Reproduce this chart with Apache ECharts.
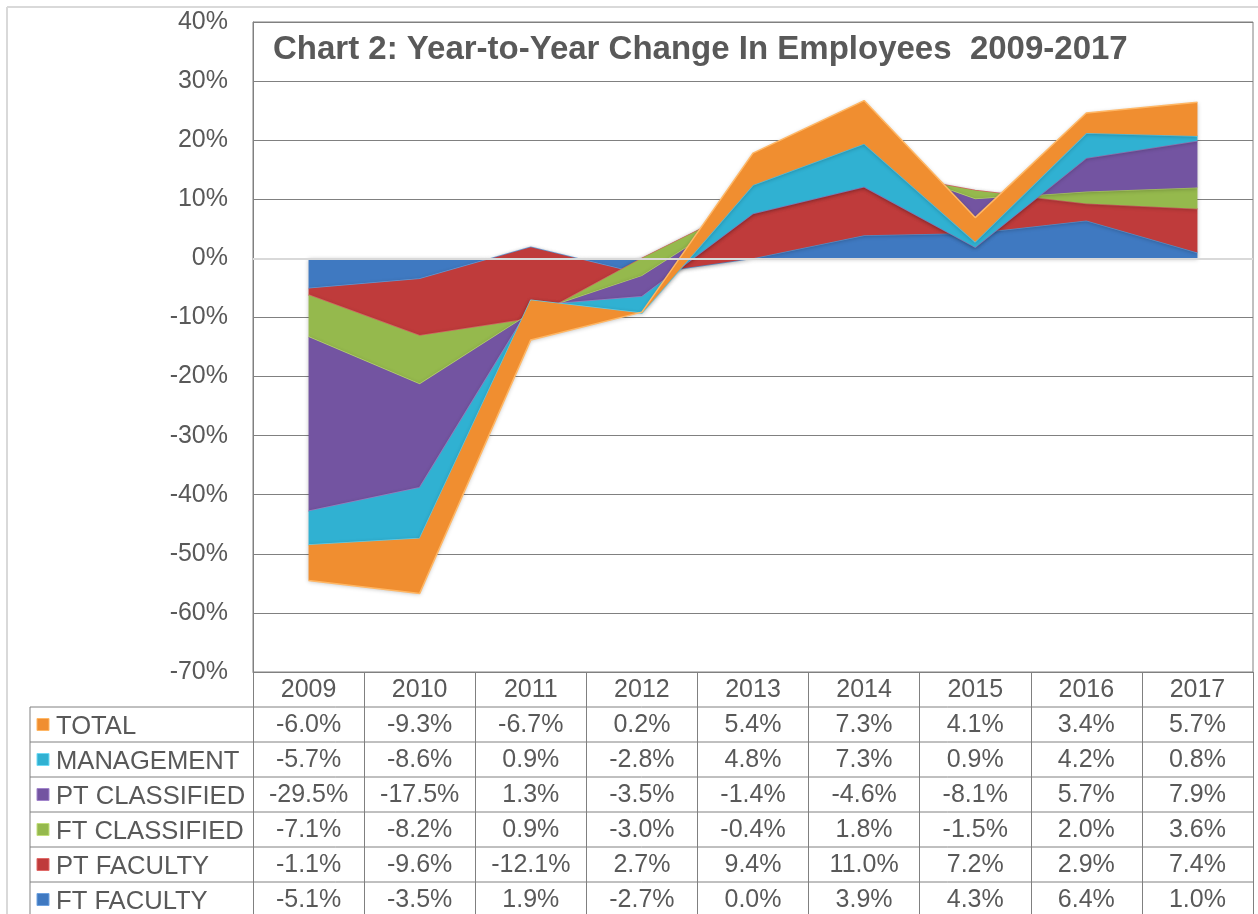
<!DOCTYPE html>
<html>
<head>
<meta charset="utf-8">
<script src="https://cdn.jsdelivr.net/npm/echarts@6/dist/echarts.min.js"></script>
<style>
html,body{margin:0;padding:0;background:#fff;}
#chart{width:1258px;height:914px;}
</style>
</head>
<body>
<div id="chart"></div>
<script>
const years = ['2009','2010','2011','2012','2013','2014','2015','2016','2017'];
const yTicks = { min: -70, max: 40, step: 10 };

// stacking order (bottom to top)
const seriesNames = ['FT FACULTY','PT FACULTY','FT CLASSIFIED','PT CLASSIFIED','MANAGEMENT','TOTAL'];
const ftFaculty    = [-5.1, -3.5, 1.9, -2.7, 0.0, 3.9, 4.3, 6.4, 1.0];
const ptFaculty    = [-1.1, -9.6, -12.1, 2.7, 9.4, 11.0, 7.2, 2.9, 7.4];
const ftClassified = [-7.1, -8.2, 0.9, -3.0, -0.4, 1.8, -1.5, 2.0, 3.6];
const ptClassified = [-29.5, -17.5, 1.3, -3.5, -1.4, -4.6, -8.1, 5.7, 7.9];
const management   = [-5.7, -8.6, 0.9, -2.8, 4.8, 7.3, 0.9, 4.2, 0.8];
const total        = [-6.0, -9.3, -6.7, 0.2, 5.4, 7.3, 4.1, 3.4, 5.7];

const seriesValues = [ftFaculty, ptFaculty, ftClassified, ptClassified, management, total];
const seriesColors = ['#3f79c1', '#bf3b3b', '#95b94d', '#7354a1', '#30b1d2', '#f08e30'];
const edgeColors   = ['#6ea2e0', '#e06a68', '#c2de7a', '#a285cc', '#6fdaf5', '#ffb765'];

// table rows (top to bottom)
const tableOrder = [5, 4, 3, 2, 1, 0];

const chart = echarts.init(document.getElementById('chart'));

const TXT = '#595959';
const FONT = '"Liberation Sans", Arial, sans-serif';
const GRID_LEFT = 253, GRID_RIGHT = 5, GRID_TOP = 22, GRID_BOTTOM = 242;
const ROW_H = 35;
const tableTop = 914 - GRID_BOTTOM;

const fmt = v => v.toFixed(1) + '%';

const splitColors = [];
for (let v = yTicks.min; v <= yTicks.max; v += yTicks.step) {
  splitColors.push(v === 0 ? '#d9d9d9' : '#808080');
}

const series = seriesNames.map((name, i) => ({
  name: name,
  type: 'line',
  stack: 'all',
  stackStrategy: 'all',
  data: seriesValues[i],
  symbol: 'none',
  smooth: false,
  lineStyle: { color: edgeColors[i], width: 1.5 },
  areaStyle: { color: seriesColors[i], opacity: 1, shadowColor: 'rgba(0,0,0,0.25)', shadowBlur: 4, shadowOffsetY: 1 },
  itemStyle: { color: seriesColors[i] },
  z: 2 + i
}));
series[series.length - 1].markLine = {
  silent: true,
  symbol: 'none',
  label: { show: false },
  lineStyle: { color: '#d9d9d9', type: 'solid', width: 2 },
  data: [{ yAxis: 0 }],
  z: 20
};

// table graphics: row lines, left border, legend keys, row headers
const graphics = [];
graphics.push({ type: 'line', shape: { x1: 7, y1: 7, x2: 1258, y2: 7 }, style: { stroke: '#d9d9d9', lineWidth: 2 } });
graphics.push({ type: 'line', shape: { x1: 7, y1: 7, x2: 7, y2: 914 }, style: { stroke: '#d9d9d9', lineWidth: 2 } });
graphics.push({
  type: 'text', left: 273, top: 33, z: 30,
  style: { text: 'Chart 2: Year-to-Year Change In Employees  2009-2017', font: 'bold 33px ' + FONT, fill: TXT }
});
tableOrder.forEach((si, r) => {
  const y = tableTop + ROW_H * (r + 1);
  graphics.push({ type: 'line', shape: { x1: 30, y1: y, x2: 1258 - GRID_RIGHT, y2: y }, style: { stroke: '#808080', lineWidth: 1 } });
  graphics.push({ type: 'rect', shape: { x: 37, y: y + ROW_H / 2 - 6, width: 12, height: 12 },
    style: { fill: seriesColors[si], stroke: edgeColors[si], lineWidth: 1 } });
  graphics.push({ type: 'text', x: 56, y: y + ROW_H / 2 + 2,
    style: { text: seriesNames[si], font: '25.6px ' + FONT, fill: TXT, verticalAlign: 'middle', align: 'left' } });
});
graphics.push({ type: 'line', shape: { x1: 30, y1: tableTop + ROW_H, x2: 30, y2: 914 }, style: { stroke: '#808080', lineWidth: 1 } });

chart.setOption({
  animation: false,
  backgroundColor: '#fff',
  grid: { left: GRID_LEFT, right: GRID_RIGHT, top: GRID_TOP, bottom: GRID_BOTTOM, containLabel: false, outerBoundsMode: 'none', show: true, borderColor: '#808080', borderWidth: 1, backgroundColor: 'transparent' },
  xAxis: {
    type: 'category',
    data: years,
    boundaryGap: true,
    axisLine: { onZero: false, lineStyle: { color: '#808080' } },
    axisTick: { show: true, interval: 0, length: GRID_BOTTOM, lineStyle: { color: '#808080' } },
    axisLabel: {
      interval: 0,
      margin: 1,
      color: TXT,
      fontFamily: FONT,
      fontSize: 25,
      lineHeight: ROW_H,
      verticalAlign: 'top',
      formatter: (val, idx) => [val].concat(tableOrder.map(si => fmt(seriesValues[si][idx]))).join('\n')
    },
    splitLine: { show: false }
  },
  yAxis: {
    type: 'value',
    min: yTicks.min,
    max: yTicks.max,
    interval: yTicks.step,
    axisLine: { show: true, lineStyle: { color: '#808080' } },
    axisTick: { show: false },
    axisLabel: { color: TXT, fontFamily: FONT, fontSize: 25, margin: 25, formatter: '{value}%' },
    splitLine: { show: true, lineStyle: { color: splitColors, width: 1 } }
  },
  series: series,
  graphic: graphics
});
</script>
</body>
</html>
